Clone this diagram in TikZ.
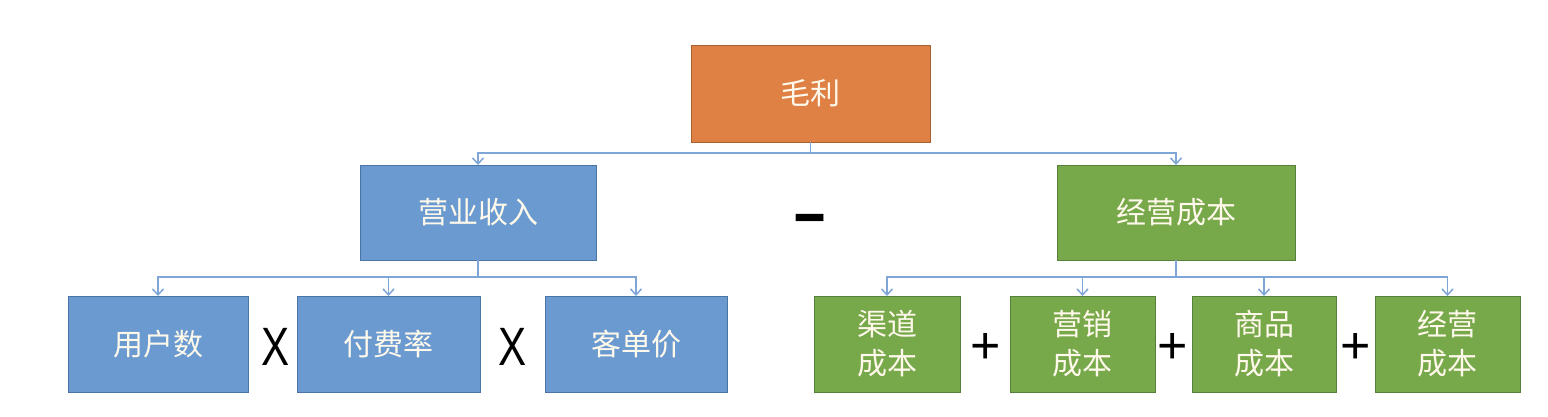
\documentclass[tikz,border=0pt]{standalone}
\usepackage{fontspec}
\setmainfont{Liberation Sans}
\newfontfamily\cjk{Noto Sans CJK SC}
\usetikzlibrary{arrows.meta}
\definecolor{orangeF}{HTML}{DF8044}
\definecolor{orangeD}{HTML}{A8602F}
\definecolor{blueF}{HTML}{6A9ACF}
\definecolor{blueD}{HTML}{4A74A4}
\definecolor{greenF}{HTML}{77A84A}
\definecolor{greenD}{HTML}{56803A}
\definecolor{lineC}{HTML}{7FA6D6}
\definecolor{txtC}{HTML}{FFF9EC}
\begin{document}
\begin{tikzpicture}[x=1pt,y=-1pt,
  box/.style={draw, line width=1pt, inner sep=0pt, outer sep=0pt,
    font=\cjk\fontsize{30}{39}\selectfont, text=txtC, align=center,
    minimum height=96pt},
  obox/.style={box, fill=orangeF, draw=orangeD},
  bbox/.style={box, fill=blueF, draw=blueD},
  gbox/.style={box, fill=greenF, draw=greenD},
  conn/.style={draw=lineC, line width=1.8pt},
  arr/.style={-{Straight Barb[length=6pt,width=11pt,line width=1.5pt]}},
  opx/.style={font=\fontsize{54}{54}\selectfont, xscale=0.78, inner sep=0pt},
  opplus/.style={font=\fontsize{52}{52}\selectfont, inner sep=0pt},
  opminus/.style={font=\bfseries\fontsize{56}{56}\selectfont, yscale=1.3, inner sep=0pt}
]
\fill[white] (0,0) rectangle (1548,416);
\useasboundingbox (0,0) rectangle (1548,416);

% top
\node[obox, minimum width=239pt, minimum height=97pt] (ml) at (810.5,93.5) {毛利};
% level 2
\node[bbox, minimum width=236pt, minimum height=95pt] (yy) at (478,212.5) {营业收入};
\node[gbox, minimum width=238pt, minimum height=95pt] (jy) at (1176,212.5) {经营成本};
\node[opminus] (minus) at (810,226) {–};

% level 3 blue
\node[bbox, minimum width=180pt] (u1) at (158,344) {用户数};
\node[bbox, minimum width=183pt] (u2) at (388.5,344) {付费率};
\node[bbox, minimum width=182pt] (u3) at (636,344) {客单价};
\node[opx] (x1) at (276,347) {X};
\node[opx] (x2) at (513,347) {X};

% level 3 green
\node[gbox, minimum width=146pt] (g1) at (887,344) {渠道\\成本};
\node[gbox, minimum width=145pt] (g2) at (1082.5,344) {营销\\成本};
\node[gbox, minimum width=144pt] (g3) at (1264,344) {商品\\成本};
\node[gbox, minimum width=145pt] (g4) at (1447.5,344) {经营\\成本};
\node[opplus] (p1) at (986,348) {+};
\node[opplus] (p2) at (1173,348) {+};
\node[opplus] (p3) at (1356,348) {+};

% connectors
\path[conn] (ml.south) -- ++(0,11) coordinate (j0);
\draw[conn,arr] (j0) -| (yy.north);
\draw[conn,arr] (j0) -| (jy.north);

\path[conn] (yy.south) -- ++(0,17) coordinate (j1);
\draw[conn,arr] (j1) -| (u1.north);
\draw[conn,arr] (j1) -| (u2.north);
\draw[conn,arr] (j1) -| (u3.north);

\path[conn] (jy.south) -- ++(0,17) coordinate (j2);
\draw[conn,arr] (j2) -| (g1.north);
\draw[conn,arr] (j2) -| (g2.north);
\draw[conn,arr] (j2) -| (g3.north);
\draw[conn,arr] (j2) -| (g4.north);
\end{tikzpicture}
\end{document}
